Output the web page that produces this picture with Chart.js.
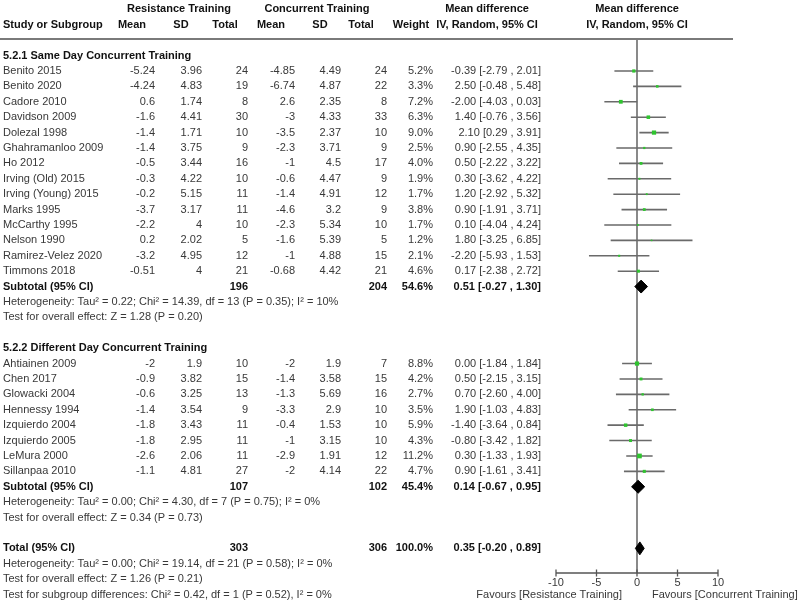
<!DOCTYPE html>
<html>
<head>
<meta charset="utf-8">
<script src="https://cdn.jsdelivr.net/npm/chart.js@4.4.0/dist/chart.umd.min.js"></script>
<style>
  body { margin: 0; background: #fff; }
  #wrap { width: 800px; height: 609px; }
</style>
</head>
<body>
<div id="wrap"><canvas id="forest" width="800" height="609"></canvas></div>
<script>
// study rows, in the order they appear
const studyNames = [
  'Benito 2015', 'Benito 2020', 'Cadore 2010', 'Davidson 2009', 'Dolezal 1998',
  'Ghahramanloo 2009', 'Ho 2012', 'Irving (Old) 2015', 'Irving (Young) 2015', 'Marks 1995',
  'McCarthy 1995', 'Nelson 1990', 'Ramirez-Velez 2020', 'Timmons 2018',
  'Ahtiainen 2009', 'Chen 2017', 'Glowacki 2004', 'Hennessy 1994', 'Izquierdo 2004',
  'Izquierdo 2005', 'LeMura 2000', 'Sillanpaa 2010'
];
const studyGroup = [1, 1, 1, 1, 1, 1, 1, 1, 1, 1, 1, 1, 1, 1, 2, 2, 2, 2, 2, 2, 2, 2];

const rtMean = ['-5.24', '-4.24', '0.6', '-1.6', '-1.4', '-1.4', '-0.5', '-0.3', '-0.2', '-3.7', '-2.2', '0.2', '-3.2', '-0.51',
  '-2', '-0.9', '-0.6', '-1.4', '-1.8', '-1.8', '-2.6', '-1.1'];
const rtSD = ['3.96', '4.83', '1.74', '4.41', '1.71', '3.75', '3.44', '4.22', '5.15', '3.17', '4', '2.02', '4.95', '4',
  '1.9', '3.82', '3.25', '3.54', '3.43', '2.95', '2.06', '4.81'];
const rtTotal = [24, 19, 8, 30, 10, 9, 16, 10, 11, 11, 10, 5, 12, 21, 10, 15, 13, 9, 11, 11, 11, 27];

const ctMean = ['-4.85', '-6.74', '2.6', '-3', '-3.5', '-2.3', '-1', '-0.6', '-1.4', '-4.6', '-2.3', '-1.6', '-1', '-0.68',
  '-2', '-1.4', '-1.3', '-3.3', '-0.4', '-1', '-2.9', '-2'];
const ctSD = ['4.49', '4.87', '2.35', '4.33', '2.37', '3.71', '4.5', '4.47', '4.91', '3.2', '5.34', '5.39', '4.88', '4.42',
  '1.9', '3.58', '5.69', '2.9', '1.53', '3.15', '1.91', '4.14'];
const ctTotal = [24, 22, 8, 33, 10, 9, 17, 9, 12, 9, 10, 5, 15, 21, 7, 15, 16, 10, 10, 10, 12, 22];

const weight = [5.2, 3.3, 7.2, 6.3, 9.0, 2.5, 4.0, 1.9, 1.7, 3.8, 1.7, 1.2, 2.1, 4.6,
  8.8, 4.2, 2.7, 3.5, 5.9, 4.3, 11.2, 4.7];
const meanDiff = [-0.39, 2.50, -2.00, 1.40, 2.10, 0.90, 0.50, 0.30, 1.20, 0.90, 0.10, 1.80, -2.20, 0.17,
  0.00, 0.50, 0.70, 1.90, -1.40, -0.80, 0.30, 0.90];
const ciLow = [-2.79, -0.48, -4.03, -0.76, 0.29, -2.55, -2.22, -3.62, -2.92, -1.91, -4.04, -3.25, -5.93, -2.38,
  -1.84, -2.15, -2.60, -1.03, -3.64, -3.42, -1.33, -1.61];
const ciHigh = [2.01, 5.48, 0.03, 3.56, 3.91, 4.35, 3.22, 4.22, 5.32, 3.71, 4.24, 6.85, 1.53, 2.72,
  1.84, 3.15, 4.00, 4.83, 0.84, 1.82, 1.93, 3.41];

// pooled estimates: subgroup 1, subgroup 2, overall
const pooledLabels = ['Subtotal (95% CI)', 'Subtotal (95% CI)', 'Total (95% CI)'];
const pooledRtTotal = [196, 107, 303];
const pooledCtTotal = [204, 102, 306];
const pooledWeight = [54.6, 45.4, 100.0];
const pooledMD = [0.51, 0.14, 0.35];
const pooledLow = [-0.27, -0.67, -0.20];
const pooledHigh = [1.30, 0.95, 0.89];

const groupTitles = ['5.2.1 Same Day Concurrent Training', '5.2.2 Different Day Concurrent Training'];
const groupNotes = [
  ['Heterogeneity: Tau² = 0.22; Chi² = 14.39, df = 13 (P = 0.35); I² = 10%', 'Test for overall effect: Z = 1.28 (P = 0.20)'],
  ['Heterogeneity: Tau² = 0.00; Chi² = 4.30, df = 7 (P = 0.75); I² = 0%', 'Test for overall effect: Z = 0.34 (P = 0.73)']
];
const totalNotes = [
  'Heterogeneity: Tau² = 0.00; Chi² = 19.14, df = 21 (P = 0.58); I² = 0%',
  'Test for overall effect: Z = 1.26 (P = 0.21)',
  'Test for subgroup differences: Chi² = 0.42, df = 1 (P = 0.52), I² = 0%'
];

const xTicks = [-10, -5, 0, 5, 10];
const favourLeft = 'Favours [Resistance Training]';
const favourRight = 'Favours [Concurrent Training]';

// ---- row layout (one unit = one text line) ----
const studyRow = [];
let r = 0;
studyNames.forEach((n, i) => {
  if (i > 0 && studyGroup[i] !== studyGroup[i - 1]) r += 5; // subtotal, 2 notes, blank, title
  studyRow.push(r);
  r++;
});
const groupTitleRow = [-1, 18];
const pooledRow = [14, 27, 31];

const fmt2 = v => v.toFixed(2);
const ciText = (m, lo, hi) => fmt2(m) + ' [' + fmt2(lo) + ' , ' + fmt2(hi) + ']';

// ---- datasets ----
const ciData = [];
studyNames.forEach((n, i) => {
  ciData.push({ x: ciLow[i], y: studyRow[i] });
  ciData.push({ x: ciHigh[i], y: studyRow[i] });
  ciData.push({ x: null, y: null });
});

const datasets = [
  {
    label: 'zero',
    data: [{ x: 0, y: -2.08 }, { x: 0, y: 32.6 }],
    showLine: true,
    borderColor: '#3d3d3d',
    borderWidth: 1.2,
    pointRadius: 0,
    order: 5
  },
  {
    label: 'ci',
    data: ciData,
    showLine: true,
    spanGaps: false,
    borderColor: '#6a6a6a',
    borderWidth: 1.6,
    pointRadius: 0,
    order: 4
  },
  {
    label: 'studies',
    data: studyNames.map((n, i) => ({ x: meanDiff[i], y: studyRow[i] })),
    pointStyle: 'rect',
    pointRadius: weight.map(w => Math.sqrt(w)),
    backgroundColor: '#2fc42f',
    borderWidth: 0,
    order: 1
  }
];
pooledMD.forEach((m, i) => {
  const row = pooledRow[i];
  datasets.push({
    label: 'pooled' + i,
    data: [
      { x: pooledLow[i], y: row },
      { x: m, y: row - 0.42 },
      { x: pooledHigh[i], y: row },
      { x: m, y: row + 0.42 },
      { x: pooledLow[i], y: row }
    ],
    showLine: true,
    fill: 'shape',
    backgroundColor: '#000',
    borderColor: '#000',
    borderWidth: 1,
    pointRadius: 0,
    order: 0
  });
});

// ---- table text + axis ----
const FONT = "'Liberation Sans', Arial, sans-serif";
const TEXT = '#383838';

const forestTable = {
  id: 'forestTable',
  beforeDraw(chart) {
    const c = chart.ctx;
    c.save();
    c.fillStyle = '#fff';
    c.fillRect(0, 0, chart.width, chart.height);
    c.restore();
  },
  afterDraw(chart) {
    const c = chart.ctx;
    const xs = chart.scales.x, ys = chart.scales.y;
    const yy = row => ys.getPixelForValue(row);
    c.save();
    c.textBaseline = 'middle';

    function txtPx(s, x, py, align, bold) {
      c.font = (bold ? 'bold ' : '') + '11px ' + FONT;
      c.fillStyle = bold ? '#111' : TEXT;
      c.textAlign = align;
      c.fillText(s, x, py);
    }
    const txt = (s, x, row, align, bold) => txtPx(s, x, yy(row), align, bold);

    // headers
    txt('Resistance Training', 179, -4, 'center', true);
    txt('Concurrent Training', 317, -4, 'center', true);
    txt('Mean difference', 487, -4, 'center', true);
    txt('Mean difference', 637, -4, 'center', true);
    txt('Study or Subgroup', 3, -3, 'left', true);
    txt('Mean', 132, -3, 'center', true);
    txt('SD', 181, -3, 'center', true);
    txt('Total', 225, -3, 'center', true);
    txt('Mean', 271, -3, 'center', true);
    txt('SD', 320, -3, 'center', true);
    txt('Total', 361, -3, 'center', true);
    txt('Weight', 411, -3, 'center', true);
    txt('IV, Random, 95% CI', 487, -3, 'center', true);
    txt('IV, Random, 95% CI', 637, -3, 'center', true);

    c.strokeStyle = '#7a7a7a';
    c.lineWidth = 2;
    c.beginPath();
    c.moveTo(0, yy(-2.08));
    c.lineTo(733, yy(-2.08));
    c.stroke();

    groupTitles.forEach((t, g) => txt(t, 3, groupTitleRow[g], 'left', true));

    studyNames.forEach((n, i) => {
      const row = studyRow[i];
      txt(n, 3, row, 'left');
      txt(rtMean[i], 155, row, 'right');
      txt(rtSD[i], 202, row, 'right');
      txt(String(rtTotal[i]), 248, row, 'right');
      txt(ctMean[i], 295, row, 'right');
      txt(ctSD[i], 341, row, 'right');
      txt(String(ctTotal[i]), 387, row, 'right');
      txt(weight[i].toFixed(1) + '%', 433, row, 'right');
      txt(ciText(meanDiff[i], ciLow[i], ciHigh[i]), 541, row, 'right');
    });

    pooledLabels.forEach((l, i) => {
      const row = pooledRow[i];
      txt(l, 3, row, 'left', true);
      txt(String(pooledRtTotal[i]), 248, row, 'right', true);
      txt(String(pooledCtTotal[i]), 387, row, 'right', true);
      txt(pooledWeight[i].toFixed(1) + '%', 433, row, 'right', true);
      txt(ciText(pooledMD[i], pooledLow[i], pooledHigh[i]), 541, row, 'right', true);
    });

    groupNotes.forEach((notes, g) => {
      notes.forEach((s, k) => txt(s, 3, pooledRow[g] + 1 + k, 'left'));
    });
    totalNotes.forEach((s, k) => txt(s, 3, pooledRow[2] + 1 + k, 'left'));

    // x axis
    const axisY = chart.chartArea.bottom;
    c.strokeStyle = '#555';
    c.lineWidth = 1.3;
    c.beginPath();
    c.moveTo(xs.getPixelForValue(xTicks[0]), axisY);
    c.lineTo(xs.getPixelForValue(xTicks[xTicks.length - 1]), axisY);
    xTicks.forEach(t => {
      const px = xs.getPixelForValue(t);
      c.moveTo(px, axisY - 3.5);
      c.lineTo(px, axisY + 3.5);
    });
    c.stroke();
    xTicks.forEach(t => txtPx(String(t), xs.getPixelForValue(t), axisY + 10, 'center'));
    txtPx(favourLeft, 622, axisY + 22, 'right');
    txtPx(favourRight, 652, axisY + 22, 'left');

    c.restore();
  }
};

new Chart(document.getElementById('forest'), {
  type: 'scatter',
  data: { datasets },
  options: {
    responsive: false,
    animation: false,
    devicePixelRatio: 1,
    layout: { autoPadding: false, padding: { left: 556, right: 82, top: 0, bottom: 36 } },
    scales: {
      x: { type: 'linear', min: -10, max: 10, display: false },
      y: { type: 'linear', min: -4.61, max: 32.6, reverse: true, display: false }
    },
    plugins: {
      legend: { display: false },
      tooltip: { enabled: false }
    }
  },
  plugins: [forestTable]
});
</script>
</body>
</html>
